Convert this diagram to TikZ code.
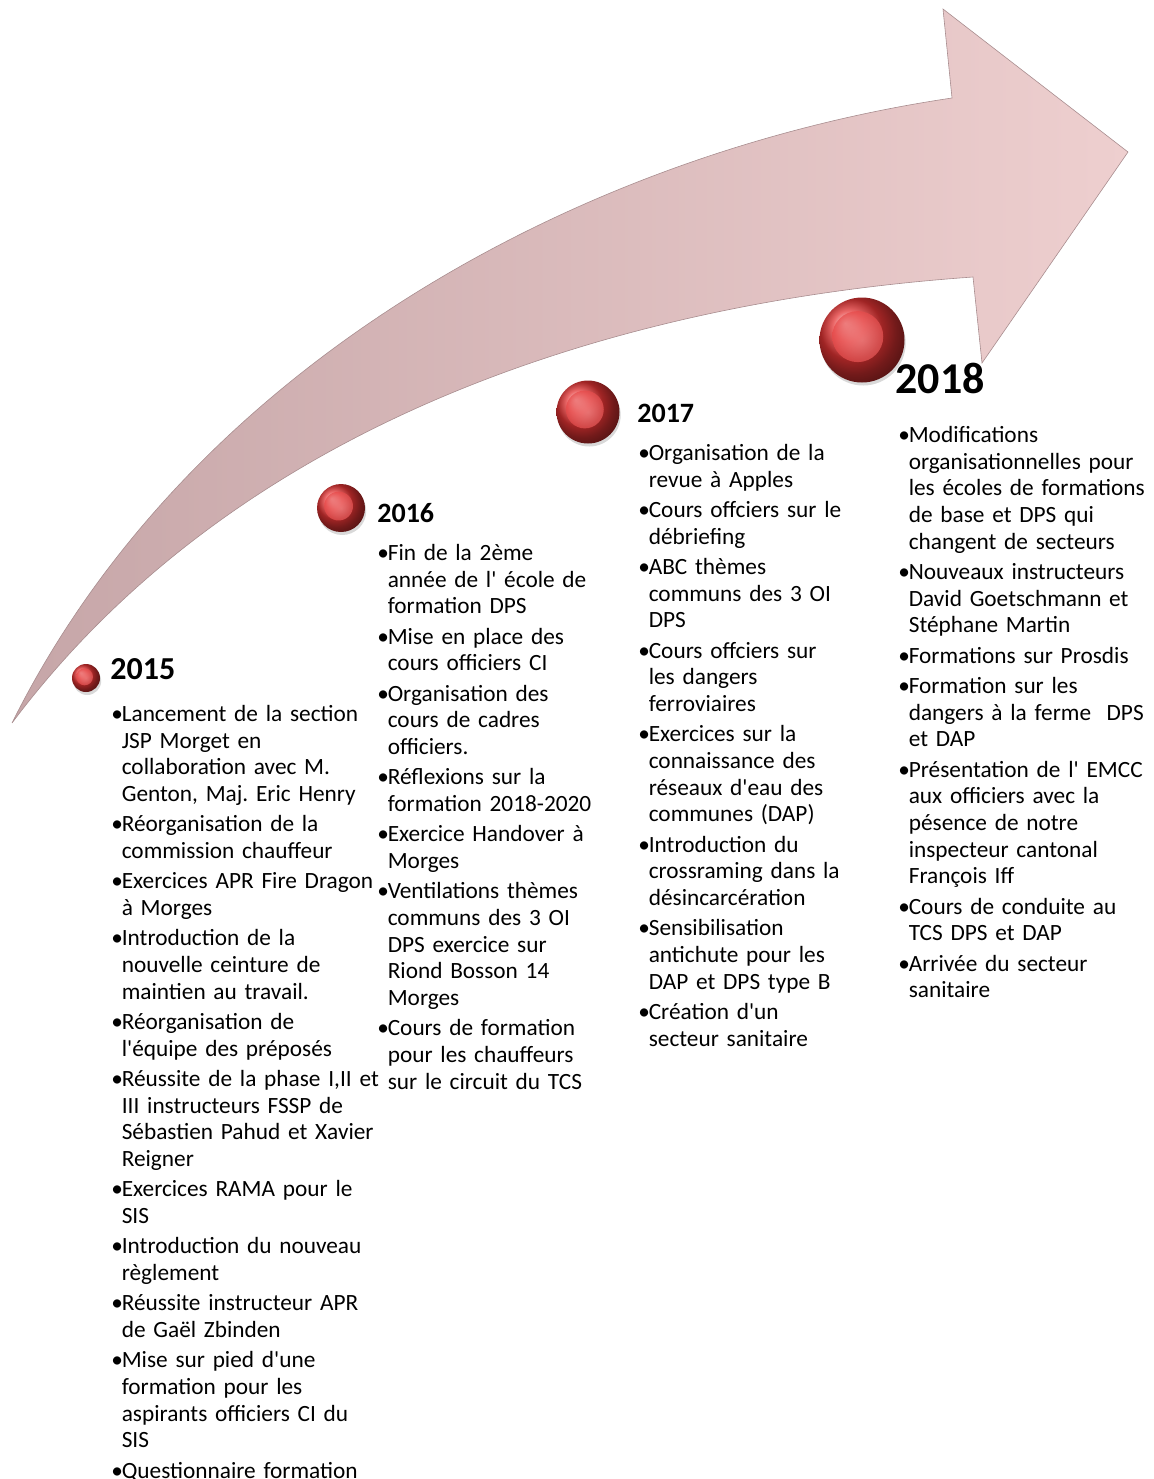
\documentclass[tikz,border=0pt]{standalone}
\usepackage{fontspec}
\setmainfont{Carlito}[Ligatures=TeXOff]
\usetikzlibrary{shadows}
\definecolor{arrowdark}{RGB}{198,166,168}
\definecolor{arrowlight}{RGB}{238,207,207}
\definecolor{ballred}{RGB}{228,52,52}
\newlength{\bulw}\setlength{\bulw}{5.2pt}
\newcommand{\brk}{\hfil\break}
\newcommand{\itm}[1]{\noindent\hangindent=\bulw\hangafter=1\makebox[\bulw][l]{\textbullet}\rule{0pt}{10pt}#1\par}
\frenchspacing
\tikzset{
  yearball/.style={circle, inner sep=0pt, minimum size=#1, shading=ball, ball color=ballred,
    drop shadow={opacity=0.3, shadow xshift=0.6pt, shadow yshift=-1.5pt},
    path picture={\shade[inner color=ballred!65!white, outer color=ballred, opacity=0.7]
      ([shift={(-0.05*#1,0.04*#1)}]path picture bounding box.center) circle (0.3*#1);}},
  yeartitle/.style={anchor=base west, inner sep=0pt, font=\bfseries\fontsize{#1}{#1}\selectfont},
  yearlist/.style={anchor=north west, inner sep=0pt, text width=160pt,
    font=\fontsize{11.65}{13.33}\selectfont, execute at begin node={\setlength{\parskip}{1.85pt}}}
}
\begin{document}
\begin{tikzpicture}[x=0.5pt, y=-0.5pt]
\useasboundingbox (0,0) rectangle (1153,1479);
\clip (0,0) rectangle (1153,1479);

% the big curved arrow
\shadedraw[left color=arrowdark, right color=arrowlight, draw=arrowdark!85!black, line width=0.3pt]
  (12,723) .. controls (190,365) and (580,153) .. (952,98)
  -- (943,9) -- (1128,152) -- (982,363) -- (973,277)
  .. controls (576,305) and (222,443) .. (12,723) -- cycle;

% years
\node (b2015) [yearball=14pt] at (86,678) {};
\node (b2016) [yearball=24pt] at (341,508) {};
\node (b2017) [yearball=31.5pt] at (588,412) {};
\node (b2018) [yearball=42.5pt] at (862,340) {};

\node (t2015) [yeartitle=16] at (110,679) {2015};
\node (t2016) [yeartitle=14] at (377,522) {2016};
\node (t2017) [yeartitle=14] at (637,422) {2017};
\node (t2018) [yeartitle=22] at (895,393) {2018};

\node (l2015) [yearlist] at (111,701) {%
\itm{Lancement de la section\brk JSP Morget en\brk collaboration avec M.\brk Genton, Maj. Eric Henry}
\itm{Réorganisation de la\brk commission chauffeur}
\itm{Exercices APR Fire Dragon\brk à Morges}
\itm{Introduction de la\brk nouvelle ceinture de\brk maintien au travail.}
\itm{Réorganisation de\brk l'équipe des préposés}
\itm{Réussite de la phase I,II et\brk III instructeurs FSSP de\brk Sébastien Pahud et Xavier\brk Reigner}
\itm{Exercices RAMA pour le\brk SIS}
\itm{Introduction du nouveau\brk règlement}
\itm{Réussite instructeur APR\brk de Gaël Zbinden}
\itm{Mise sur pied d'une\brk formation pour les\brk aspirants officiers CI du\brk SIS}
\itm{Questionnaire formation}};

\node (l2016) [yearlist] at (377,540) {%
\itm{Fin de la 2ème\brk année de l' école de\brk formation DPS}
\itm{Mise en place des\brk cours officiers CI}
\itm{Organisation des\brk cours de cadres\brk officiers.}
\itm{Réflexions sur la\brk formation 2018-2020}
\itm{Exercice Handover à\brk Morges}
\itm{Ventilations thèmes\brk communs des 3 OI\brk DPS exercice sur\brk Riond Bosson 14\brk Morges}
\itm{Cours de formation\brk pour les chauffeurs\brk sur le circuit du TCS}};

\node (l2017) [yearlist] at (638,440) {%
\itm{Organisation de la\brk revue à Apples}
\itm{Cours offciers sur le\brk débriefing}
\itm{ABC thèmes\brk communs des 3 OI\brk DPS}
\itm{Cours offciers sur\brk les dangers\brk ferroviaires}
\itm{Exercices sur la\brk connaissance des\brk réseaux d'eau des\brk communes (DAP)}
\itm{Introduction du\brk crossraming dans la\brk désincarcération}
\itm{Sensibilisation\brk antichute pour les\brk DAP et DPS type B}
\itm{Création d'un\brk secteur sanitaire}};

\node (l2018) [yearlist] at (898,422) {%
\itm{Modifications\brk organisationnelles pour\brk les écoles de formations\brk de base et DPS qui\brk changent de secteurs}
\itm{Nouveaux instructeurs\brk David Goetschmann et\brk Stéphane Martin}
\itm{Formations sur Prosdis}
\itm{Formation sur les\brk dangers à la ferme\ \ DPS\brk et DAP}
\itm{Présentation de l' EMCC\brk aux officiers avec la\brk pésence de notre\brk inspecteur cantonal\brk François Iff}
\itm{Cours de conduite au\brk TCS DPS et DAP}
\itm{Arrivée du secteur\brk sanitaire}};
\end{tikzpicture}
\end{document}
